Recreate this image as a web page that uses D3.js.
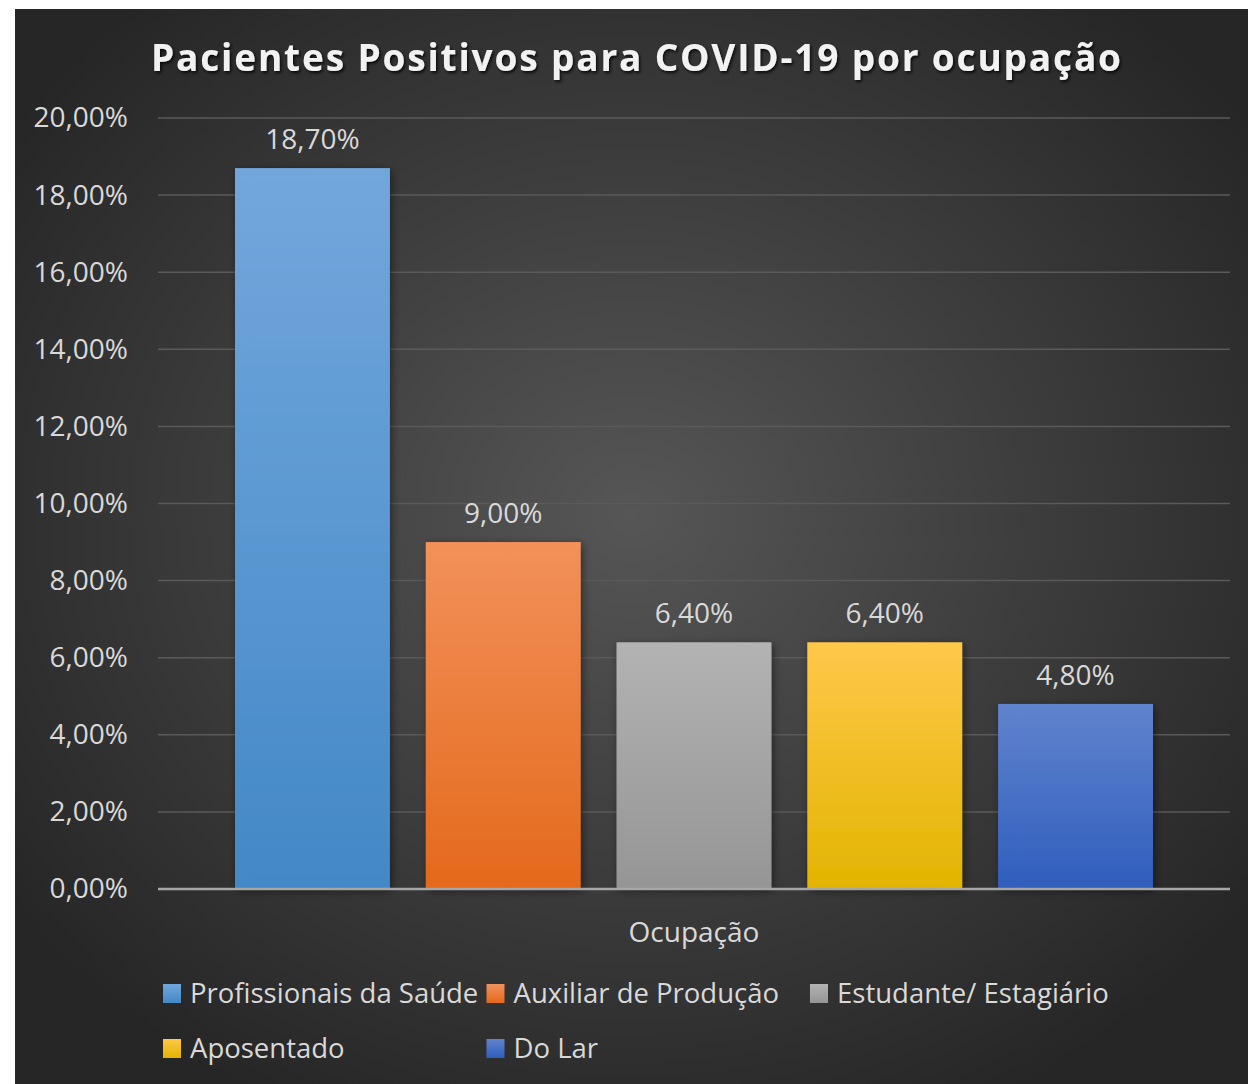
<!DOCTYPE html>
<html lang="pt">
<head>
<meta charset="UTF-8">
<title>Pacientes Positivos para COVID-19 por ocupação</title>
<script src="https://d3js.org/d3.v7.min.js"></script>
<style>
    body { margin: 0; background: #ffffff; }
    svg { display: block; font-family: 'Open Sans', sans-serif; }
</style>
</head>
<body>
<svg id="chart" width="1248" height="1084"></svg>
<script>
    // data
    const groupLabel = "Ocupação";
    const categories = ["Profissionais da Saúde", "Auxiliar de Produção", "Estudante/ Estagiário", "Aposentado", "Do Lar"];
    const values = [18.7, 9.0, 6.4, 6.4, 4.8];
    const yTicks = [0, 2, 4, 6, 8, 10, 12, 14, 16, 18, 20];
    const title = "Pacientes Positivos para COVID-19 por ocupação";

    // gradient stops per series (top, bottom)
    const barColors = [
        ["#72a7dc", "#4388c7"],
        ["#f2915a", "#e4691b"],
        ["#b3b3b3", "#959595"],
        ["#ffc84a", "#e2b400"],
        ["#6083cd", "#2f5ebd"]
    ];

    const width = 1248, height = 1084;
    const margin = { left: 158, right: 18, top: 118, bottom: 195 };

    const svg = d3.select("#chart");
    const defs = svg.append("defs");

    // chart background
    const bg = defs.append("radialGradient")
        .attr("id", "bg").attr("cx", "50%").attr("cy", "47%").attr("r", "62%");
    bg.append("stop").attr("offset", "0%").attr("stop-color", "#565656");
    bg.append("stop").attr("offset", "100%").attr("stop-color", "#262626");

    barColors.forEach((c, i) => {
        const g = defs.append("linearGradient")
            .attr("id", "bar" + i).attr("x1", 0).attr("y1", 0).attr("x2", 0).attr("y2", 1);
        g.append("stop").attr("offset", "0%").attr("stop-color", c[0]);
        g.append("stop").attr("offset", "100%").attr("stop-color", c[1]);
    });

    const shadow = defs.append("filter").attr("id", "shadow")
        .attr("x", "-20%").attr("y", "-20%").attr("width", "140%").attr("height", "140%");
    shadow.append("feDropShadow").attr("dx", 2).attr("dy", 2).attr("stdDeviation", 4)
        .attr("flood-color", "#000").attr("flood-opacity", 0.45);

    const titleShadow = defs.append("filter").attr("id", "tshadow")
        .attr("x", "-5%").attr("y", "-30%").attr("width", "110%").attr("height", "160%");
    titleShadow.append("feDropShadow").attr("dx", 1.5).attr("dy", 2).attr("stdDeviation", 1.5)
        .attr("flood-color", "#000").attr("flood-opacity", 0.8);

    svg.append("rect")
        .attr("x", 15).attr("y", 9)
        .attr("width", width - 15).attr("height", height - 9)
        .attr("fill", "url(#bg)");

    // scales
    const y = d3.scaleLinear()
        .domain([0, 20])
        .range([height - margin.bottom, margin.top]);

    const x0 = d3.scaleBand()
        .domain([groupLabel])
        .range([margin.left, width - margin.right])
        .paddingInner(0.0774)
        .paddingOuter(0.0774);

    const x1 = d3.scaleBand()
        .domain(categories)
        .range([0, x0.bandwidth()])
        .paddingInner(0.188)
        .paddingOuter(0);

    const locale = d3.formatLocale({ decimal: ",", thousands: ".", grouping: [3], currency: ["R$", ""] });
    const pct = v => locale.format(".2f")(v) + "%";

    // gridlines
    svg.append("g")
        .selectAll("line")
        .data(yTicks.filter(d => d > 0))
        .join("line")
        .attr("x1", margin.left).attr("x2", width - margin.right)
        .attr("y1", d => y(d)).attr("y2", d => y(d))
        .attr("stroke", "#5a5a5a").attr("stroke-width", 1.5);

    // y axis labels
    const yAxis = d3.axisLeft(y).tickValues(yTicks).tickFormat(pct).tickSize(0).tickPadding(30);
    const yg = svg.append("g").attr("transform", `translate(${margin.left},0)`).call(yAxis);
    yg.select(".domain").remove();
    yg.selectAll("text")
        .attr("fill", "#d9d9d9")
        .style("font-size", "28px")
        .style("font-family", "'Open Sans', sans-serif");

    // bars
    const barsG = svg.append("g").attr("transform", `translate(${x0(groupLabel)},0)`);
    barsG.selectAll("rect")
        .data(categories)
        .join("rect")
        .attr("x", d => x1(d))
        .attr("y", (d, i) => y(values[i]))
        .attr("width", x1.bandwidth())
        .attr("height", (d, i) => y(0) - y(values[i]))
        .attr("fill", (d, i) => `url(#bar${i})`)
        .attr("filter", "url(#shadow)");

    // data labels
    barsG.selectAll("text")
        .data(categories)
        .join("text")
        .attr("x", d => x1(d) + x1.bandwidth() / 2)
        .attr("y", (d, i) => y(values[i]) - 19)
        .attr("text-anchor", "middle")
        .attr("fill", "#d9d9d9")
        .style("font-size", "28px")
        .text((d, i) => pct(values[i]));

    // x axis line
    svg.append("line")
        .attr("x1", margin.left).attr("x2", width - margin.right)
        .attr("y1", y(0)).attr("y2", y(0))
        .attr("stroke", "#a6a6a6").attr("stroke-width", 2.5);

    // category label
    svg.append("text")
        .attr("x", x0(groupLabel) + x0.bandwidth() / 2)
        .attr("y", y(0) + 53)
        .attr("text-anchor", "middle")
        .attr("fill", "#d9d9d9")
        .style("font-size", "28px")
        .text(groupLabel);

    // title
    svg.append("text")
        .attr("x", 636)
        .attr("y", 71)
        .attr("text-anchor", "middle")
        .attr("fill", "#f2f2f2")
        .attr("filter", "url(#tshadow)")
        .attr("textLength", 970)
        .attr("lengthAdjust", "spacing")
        .style("font-size", "37px")
        .style("font-weight", "bold")
        .text(title);

    // legend
    const legendCols = 3, colW = 323.5;
    const legend = svg.append("g").attr("transform", "translate(163,984)");
    const items = legend.selectAll("g")
        .data(categories)
        .join("g")
        .attr("transform", (d, i) => `translate(${(i % legendCols) * colW},${Math.floor(i / legendCols) * 55})`);
    items.append("rect")
        .attr("width", 18).attr("height", 19)
        .attr("fill", (d, i) => `url(#bar${i})`);
    items.append("text")
        .attr("x", 27).attr("y", 19)
        .attr("fill", "#d9d9d9")
        .style("font-size", "27.5px")
        .text(d => d);
</script>
</body>
</html>
